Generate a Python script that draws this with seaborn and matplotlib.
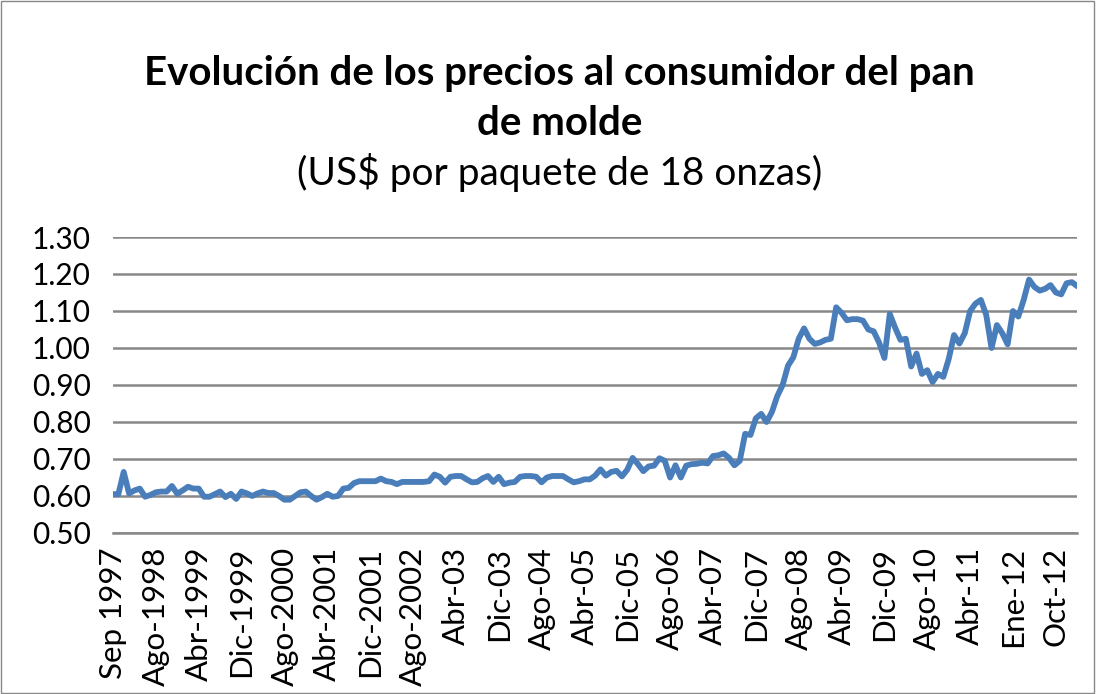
import numpy as np
import pandas as pd
import seaborn as sns
import matplotlib.pyplot as plt
from matplotlib.patches import Rectangle


# precio mensual (US$ por paquete de 18 onzas)
precios = [
    0.605, 0.605, 0.665, 0.607, 0.615, 0.620, 0.598, 0.603, 0.610, 0.612,
    0.612, 0.627, 0.606, 0.615, 0.625, 0.620, 0.620, 0.598, 0.598, 0.605,
    0.612, 0.597, 0.606, 0.592, 0.612, 0.607, 0.600, 0.607, 0.612, 0.608,
    0.608, 0.600, 0.590, 0.590, 0.600, 0.610, 0.612, 0.600, 0.590, 0.597,
    0.606, 0.598, 0.600, 0.620, 0.622, 0.635, 0.640, 0.640, 0.640, 0.640,
    0.647, 0.640, 0.638, 0.632, 0.638, 0.638, 0.638, 0.638, 0.638, 0.640,
    0.658, 0.652, 0.636, 0.652, 0.654, 0.654, 0.645, 0.637, 0.638, 0.648,
    0.654, 0.638, 0.652, 0.632, 0.636, 0.638, 0.652, 0.654, 0.654, 0.652,
    0.637, 0.650, 0.654, 0.654, 0.654, 0.645, 0.637, 0.640, 0.645, 0.645,
    0.655, 0.672, 0.655, 0.665, 0.668, 0.653, 0.671, 0.703, 0.686, 0.667,
    0.680, 0.682, 0.702, 0.695, 0.650, 0.683, 0.650, 0.682, 0.686, 0.687,
    0.690, 0.688, 0.708, 0.710, 0.715, 0.703, 0.683, 0.695, 0.768, 0.765,
    0.810, 0.822, 0.800, 0.827, 0.870, 0.900, 0.952, 0.975, 1.025, 1.053,
    1.025, 1.011, 1.015, 1.022, 1.025, 1.110, 1.095, 1.075, 1.078, 1.078,
    1.074, 1.050, 1.045, 1.015, 0.973, 1.092, 1.055, 1.022, 1.025, 0.950,
    0.985, 0.930, 0.940, 0.908, 0.930, 0.922, 0.970, 1.035, 1.012, 1.040,
    1.100, 1.120, 1.130, 1.090, 1.000, 1.062, 1.040, 1.010, 1.100, 1.085,
    1.130, 1.185, 1.165, 1.155, 1.160, 1.170, 1.150, 1.145, 1.175, 1.178,
    1.167,
]

etiquetas = [
    "Sep 1997", "Ago-1998", "Abr-1999", "Dic-1999", "Ago-2000", "Abr-2001",
    "Dic-2001", "Ago-2002", "Abr-03", "Dic-03", "Ago-04", "Abr-05", "Dic-05",
    "Ago-06", "Abr-07", "Dic-07", "Ago-08", "Abr-09", "Dic-09", "Ago-10",
    "Abr-11", "Ene-12", "Oct-12",
]
paso = 8

valores_y = [0.50, 0.60, 0.70, 0.80, 0.90, 1.00, 1.10, 1.20, 1.30]

df = pd.DataFrame({"periodo": np.arange(len(precios)), "precio": precios})

sns.set_theme(style="white")
plt.rcParams["font.family"] = ["Lato", "DejaVu Sans"]
plt.rcParams["text.color"] = "black"
plt.rcParams["xtick.color"] = "black"
plt.rcParams["ytick.color"] = "black"

fig = plt.figure(figsize=(10.97, 6.94), dpi=100)
ax = fig.add_axes([0.103, 0.232, 0.879, 0.4265])

sns.lineplot(data=df, x="periodo", y="precio", ax=ax,
             color="#4A7EBB", linewidth=4.2)

ax.set_xlim(0, len(precios) - 1)
ax.set_ylim(0.5, 1.3)
ax.set_yticks(valores_y)
ax.set_yticklabels([f"{v:.2f}" for v in valores_y], fontsize=21.5)
ax.set_xticks(np.arange(0, paso * len(etiquetas), paso))
ax.set_xticklabels(etiquetas, rotation=90, fontsize=22.5)
ax.tick_params(axis="y", pad=16, length=0)
ax.tick_params(axis="x", pad=10, length=0)
ax.grid(axis="y", color="#888888", linewidth=1.8)
ax.set_axisbelow(True)
for lado in ["left", "right", "top"]:
    ax.spines[lado].set_visible(False)
ax.spines["bottom"].set_color("#888888")
ax.spines["bottom"].set_linewidth(1.8)
ax.set_xlabel("")
ax.set_ylabel("")

fig.text(0.51, 0.8775, "Evolución de los precios al consumidor del pan",
         ha="center", va="baseline", fontsize=29, fontweight="bold")
fig.text(0.51, 0.8055, "de molde",
         ha="center", va="baseline", fontsize=29, fontweight="bold")
fig.text(0.51, 0.7334, "(US$ por paquete de 18 onzas)",
         ha="center", va="baseline", fontsize=28)

fig.patches.append(Rectangle((0.001, 0.001), 0.996, 0.997, transform=fig.transFigure,
                             fill=False, edgecolor="#888888", linewidth=1))

fig.savefig("out.png", dpi=100)
